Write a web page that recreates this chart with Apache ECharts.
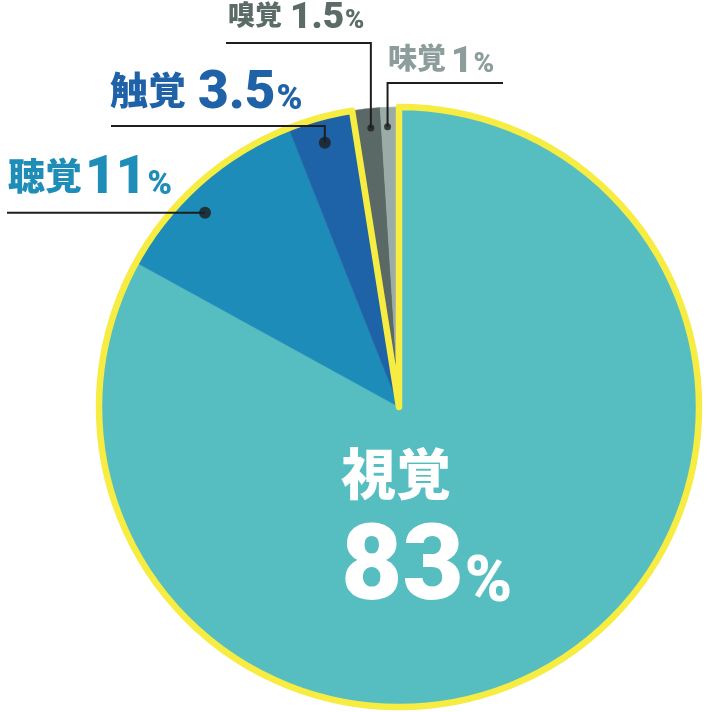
<!DOCTYPE html>
<html>
<head>
<meta charset="utf-8">
<script src="https://cdn.jsdelivr.net/npm/echarts@6/dist/echarts.min.js"></script>
<style>
  html, body { margin: 0; padding: 0; background: #ffffff; }
  #chart { width: 712px; height: 712px; }
</style>
</head>
<body>
<div id="chart"></div>
<script>
// ---- data ----
const categories = ['視覚', '聴覚', '触覚', '嗅覚', '味覚'];
const values = [83, 11, 3.5, 1.5, 1];
const highlightedGroup = ['視覚', '聴覚', '触覚'];

// ---- styles ----
const sliceColors = ['#56bec0', '#1d8cb8', '#1e63a7', '#5a6966', '#9aaba8'];
const labelColors = ['#ffffff', '#1e8db8', '#1f62a8', '#5b6b67', '#8c9d9b'];
const YELLOW = '#f6ec42';
const CX = 399, CY = 407, R = 300;
const CJK = '"Noto Sans CJK JP", sans-serif';
const NUM = 'Roboto, "Noto Sans", sans-serif';
// font sizes per label: kanji / number / percent, and gap before number
const labelSizes = [
  { k: 55, n: 106, p: 64, gap: 0 },
  { k: 37, n: 53, p: 33, gap: 3 },
  { k: 38, n: 53, p: 35, gap: 12 },
  { k: 27, n: 37, p: 26, gap: 8 },
  { k: 29, n: 37, p: 28, gap: 5 }
];
// label placement: text left x, text baseline y, leader horizontal y, leader end x
const labelPlacement = [
  { textX: 341, textY: 603 },
  { textX: 8, textY: 195, lineY: null, lineEnd: 7 },
  { textX: 110, textY: 110, lineY: 126, lineEnd: 111 },
  { textX: 228, textY: 29, lineY: 43, lineEnd: 226 },
  { textX: 388, textY: 73, lineY: 83, lineEnd: 503 }
];
// dot position within slice: fraction across the slice angle, fraction of radius
const dotPlacement = [null,
  { t: 0.41, r: 0.915 },
  { t: 0.47, r: 0.915 },
  { t: 0.6, r: 0.935 },
  { t: 0.35, r: 0.935 }
];
const dotSizes = [0, 12, 12, 7, 7];

const total = values.reduce((a, b) => a + b, 0);
const starts = [];
values.reduce((acc, v) => { starts.push(acc); return acc + v; }, 0);

function dotValue(i) {
  const d = dotPlacement[i];
  return [d.r, (starts[i] + values[i] * d.t) / total * 100];
}
function toPx(rv, av) {
  const th = av / 100 * Math.PI * 2;
  return [CX + rv * R * Math.sin(th), CY - rv * R * Math.cos(th)];
}

const groupValue = values.filter((v, i) => highlightedGroup.includes(categories[i])).reduce((a, b) => a + b, 0);
const restValue = total - groupValue;

const chart = echarts.init(document.getElementById('chart'), null, { renderer: 'canvas' });

function richFor(i) {
  const s = labelSizes[i];
  const c = labelColors[i];
  const lh = i === 0 ? 40 : s.k;
  return {
    k: { fontFamily: CJK, fontWeight: 900, fontSize: s.k, lineHeight: i === 0 ? 60 : lh,
         height: i === 0 ? 180 : Math.round(s.k * 1.06), color: c, verticalAlign: 'bottom' },
    n: { fontFamily: NUM, fontWeight: 900, fontSize: s.n, lineHeight: lh,
         height: Math.round(s.n * 0.58), color: c, verticalAlign: 'bottom', padding: [0, 1, 0, s.gap] },
    p: { fontFamily: NUM, fontWeight: 900, fontSize: s.p, lineHeight: lh,
         height: Math.round(s.p * 0.58), color: c, verticalAlign: 'bottom' }
  };
}

const option = {
  backgroundColor: '#ffffff',
  animation: false,
  polar: { center: [CX, CY], radius: R },
  angleAxis: { type: 'value', min: 0, max: 100, startAngle: 90, clockwise: true, show: false },
  radiusAxis: { type: 'value', min: 0, max: 1, show: false },
  series: [
    {
      type: 'pie',
      z: 1,
      silent: true,
      center: [CX, CY],
      radius: [0, R],
      startAngle: 90,
      label: { show: false },
      labelLine: { show: false },
      data: categories.map((name, i) => ({
        name: name, value: values[i],
        itemStyle: { color: sliceColors[i], borderColor: sliceColors[i], borderWidth: 0.5 }
      }))
    },
    {
      type: 'pie',
      z: 2,
      silent: true,
      center: [CX, CY],
      radius: [0, R],
      startAngle: 90,
      label: { show: false },
      labelLine: { show: false },
      emphasis: { disabled: true },
      data: [
        { name: 'group', value: groupValue, itemStyle: { color: 'rgba(0,0,0,0)', borderColor: YELLOW, borderWidth: 6.5, borderJoin: 'round' } },
        { name: 'rest', value: restValue, itemStyle: { color: 'rgba(0,0,0,0)', borderWidth: 0 } }
      ]
    },
    {
      type: 'pie',
      z: 3,
      silent: true,
      center: [CX, CY],
      radius: [0, R],
      startAngle: 90,
      avoidLabelOverlap: false,
      itemStyle: { color: 'rgba(0,0,0,0)', borderWidth: 0 },
      label: { show: true, position: 'outside' },
      labelLine: { show: true, showAbove: true, length: 10, length2: 10, lineStyle: { color: '#1e1e1e', width: 2 } },
      data: categories.map((name, i) => ({
        name: name, value: values[i],
        label: {
          formatter: i === 0 ? '{k|' + name + '}\n{n|' + String(values[i]) + '}{p|%}'
                             : '{k|' + name + '}{n|' + String(values[i]) + '}{p|%}',
          rich: richFor(i)
        },
        labelLine: { show: i !== 0 }
      })),
      labelLayout: function (p) {
        const i = p.dataIndex;
        const L = labelPlacement[i];
        if (i === 0) {
          return { x: L.textX, y: L.textY, align: 'left', verticalAlign: 'bottom' };
        }
        const dv = dotValue(i);
        const a = toPx(dv[0], dv[1]);
        const ly = L.lineY == null ? a[1] : L.lineY;
        return {
          x: L.textX, y: L.textY, align: 'left', verticalAlign: 'bottom',
          labelLinePoints: [[a[0], a[1]], [a[0], ly], [L.lineEnd, ly]]
        };
      }
    },
    {
      type: 'scatter',
      coordinateSystem: 'polar',
      z: 4,
      silent: true,
      itemStyle: { color: '#1e1e1e' },
      data: categories.map((name, i) => i === 0 ? null : { name: name, value: dotValue(i), symbolSize: dotSizes[i] }).filter(Boolean)
    }
  ]
};
chart.setOption(option);
</script>
</body>
</html>
